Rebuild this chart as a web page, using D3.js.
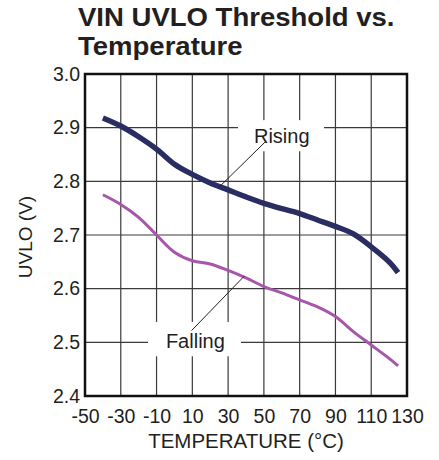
<!DOCTYPE html>
<html>
<head>
<meta charset="utf-8">
<script src="https://cdn.jsdelivr.net/npm/d3@7"></script>
<style>
  body { margin: 0; background: #fff; }
  text { font-family: "Liberation Sans", Arial, Helvetica, sans-serif; fill: #231f20; }
</style>
</head>
<body>
<div id="chart"></div>
<script>
// temperatures (°C) sampled from the curves
var temps = [-40, -30, -20, -10, 0, 10, 20, 30, 40, 50, 60, 70, 80, 90, 100, 110, 120, 125];
var rising = [2.918, 2.903, 2.883, 2.860, 2.832, 2.813, 2.797, 2.784, 2.771, 2.759, 2.749, 2.740, 2.728, 2.716, 2.702, 2.678, 2.650, 2.630];
var falling = [2.775, 2.757, 2.733, 2.700, 2.668, 2.652, 2.646, 2.634, 2.620, 2.604, 2.592, 2.579, 2.566, 2.548, 2.520, 2.495, 2.470, 2.456];

var xTicks = [-50, -30, -10, 10, 30, 50, 70, 90, 110, 130];
var yTicks = [2.4, 2.5, 2.6, 2.7, 2.8, 2.9, 3.0];

var titleLines = ["VIN UVLO Threshold vs.", "Temperature"];
var xTitle = "TEMPERATURE (°C)";
var yTitle = "UVLO (V)";

// label text, anchor point, white box corners, leader line ends (data units)
var labels = [
    { text: "Rising", x: 60, y: 2.871, box: [35.5, 2.914, 83.6, 2.856], lead: [50.6, 2.873, 24.3, 2.787] },
    { text: "Falling", x: 11.7, y: 2.490, box: [-14.8, 2.538, 37.2, 2.474], lead: [9.6, 2.522, 38.9, 2.623] }
];

var width = 439, height = 460;
var margin = { top: 74, right: 32, bottom: 64, left: 85 };
var w = width - margin.left - margin.right,
    h = height - margin.top - margin.bottom;

var svg = d3.select("#chart").append("svg")
    .attr("width", width)
    .attr("height", height);

svg.selectAll(".title")
    .data(titleLines)
    .enter()
    .append("text")
    .attr("class", "title")
    .attr("transform", function (d, i) {
        return "translate(78," + (26 + i * 28.5) + ") scale(1.08,1)";
    })
    .style("font-weight", "bold")
    .style("font-size", "25.5px")
    .text(function (d) { return d; });

var g = svg.append("g")
    .attr("transform", "translate(" + margin.left + "," + margin.top + ")");

var x = d3.scaleLinear().domain([-50, 130]).range([0, w]);
var y = d3.scaleLinear().domain([2.4, 3.0]).range([h, 0]);

// grid
g.append("g")
    .selectAll("line")
    .data(d3.range(-50, 131, 20))
    .enter()
    .append("line")
    .attr("x1", function (d) { return x(d); })
    .attr("x2", function (d) { return x(d); })
    .attr("y1", 0)
    .attr("y2", h)
    .attr("stroke", "#3a3a3a")
    .attr("stroke-width", 1.2);

g.append("g")
    .selectAll("line")
    .data(yTicks)
    .enter()
    .append("line")
    .attr("x1", 0)
    .attr("x2", w)
    .attr("y1", function (d) { return y(d); })
    .attr("y2", function (d) { return y(d); })
    .attr("stroke", "#3a3a3a")
    .attr("stroke-width", 1.2);

// white boxes behind the labels
g.selectAll(".lblbox")
    .data(labels)
    .enter()
    .append("rect")
    .attr("class", "lblbox")
    .attr("x", function (d) { return x(d.box[0]); })
    .attr("y", function (d) { return y(d.box[1]); })
    .attr("width", function (d) { return x(d.box[2]) - x(d.box[0]); })
    .attr("height", function (d) { return y(d.box[3]) - y(d.box[1]); })
    .attr("fill", "#fff");

// curves
var line = d3.line()
    .x(function (d) { return x(d[0]); })
    .y(function (d) { return y(d[1]); })
    .curve(d3.curveCatmullRom);

g.append("path")
    .datum(d3.zip(temps, falling))
    .attr("d", line)
    .attr("fill", "none")
    .attr("stroke", "#a656ab")
    .attr("stroke-width", 3);

g.append("path")
    .datum(d3.zip(temps, rising))
    .attr("d", line)
    .attr("fill", "none")
    .attr("stroke", "#2a2d62")
    .attr("stroke-width", 5.5);

// leader lines and labels
g.selectAll(".lead")
    .data(labels)
    .enter()
    .append("line")
    .attr("x1", function (d) { return x(d.lead[0]); })
    .attr("y1", function (d) { return y(d.lead[1]); })
    .attr("x2", function (d) { return x(d.lead[2]); })
    .attr("y2", function (d) { return y(d.lead[3]); })
    .attr("stroke", "#231f20")
    .attr("stroke-width", 1);

g.selectAll(".lbl")
    .data(labels)
    .enter()
    .append("text")
    .attr("class", "lbl")
    .attr("x", function (d) { return x(d.x); })
    .attr("y", function (d) { return y(d.y); })
    .attr("text-anchor", "middle")
    .style("font-size", "20px")
    .text(function (d) { return d.text; });

// frame
g.append("rect")
    .attr("width", w)
    .attr("height", h)
    .attr("fill", "none")
    .attr("stroke", "#111")
    .attr("stroke-width", 2.5);

// axes
var xAxis = g.append("g")
    .attr("transform", "translate(0," + h + ")")
    .call(d3.axisBottom(x).tickValues(xTicks).tickSize(0).tickPadding(13)
        .tickFormat(function (d) { return String(d); }));
xAxis.select(".domain").remove();
xAxis.selectAll("text")
    .style("font-size", "19.5px")
    .attr("fill", "#231f20")
    .attr("dy", "0.71em");

var yAxis = g.append("g")
    .call(d3.axisLeft(y).tickValues(yTicks).tickSize(0).tickPadding(5).tickFormat(d3.format(".1f")));
yAxis.select(".domain").remove();
yAxis.selectAll("text")
    .style("font-size", "19.5px")
    .attr("fill", "#231f20");

svg.append("text")
    .attr("x", 246)
    .attr("y", 448)
    .attr("text-anchor", "middle")
    .style("font-size", "20.5px")
    .text(xTitle);

svg.append("text")
    .attr("transform", "translate(32,237) rotate(-90)")
    .attr("text-anchor", "middle")
    .style("font-size", "19px")
    .text(yTitle);
</script>
</body>
</html>
